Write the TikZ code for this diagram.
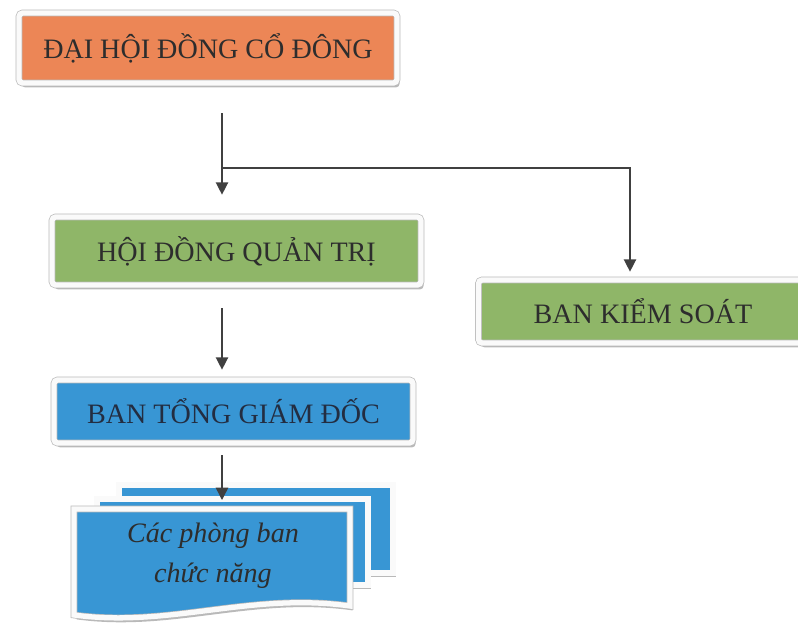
\documentclass[tikz,border=0pt]{standalone}
\usepackage{fontspec}
\setmainfont{Liberation Serif}
\usetikzlibrary{arrows.meta,shadows}

\definecolor{dhcam}{RGB}{236,134,86}
\definecolor{hdxanh}{RGB}{143,182,104}
\definecolor{bgxanh}{RGB}{56,150,212}
\definecolor{chu}{RGB}{45,45,45}
\definecolor{chuxanh}{RGB}{35,45,65}

\begin{document}
\begin{tikzpicture}[x=0.02cm, y=-0.02cm,
  frame/.style={draw=gray!55, double=white!96!gray, double distance=3pt, line width=0.4pt,
                drop shadow={shadow xshift=1.5pt, shadow yshift=-2.5pt, opacity=0.55}},
  box/.style={frame, rectangle, rounded corners=2pt, text=chu,
              font=\fontsize{16}{19}\selectfont},
  dhbox/.style={box, fill=dhcam},
  hdbox/.style={box, fill=hdxanh},
  bgbox/.style={box, fill=bgxanh, text=chuxanh},
  sheet/.style={frame, fill=bgxanh},
  arrow/.style={-{Triangle[width=7pt,length=7pt]}, line width=0.8pt, draw=black!75}
]
  \useasboundingbox (0,0) rectangle (798,626);

  \node[dhbox] (dhdcd) at (208,48)    [minimum width=7.56cm, minimum height=1.4cm]  {ĐẠI HỘI ĐỒNG CỔ ĐÔNG};
  \node[hdbox] (hdqt)  at (236.5,251) [minimum width=7.38cm, minimum height=1.36cm] {HỘI ĐỒNG QUẢN TRỊ};
  \node[hdbox] (bks)   at (643,311.5) [minimum width=6.58cm, minimum height=1.26cm] {BAN KIỂM SOÁT};
  \node[bgbox] (btgd)  at (233.5,411.5) [minimum width=7.18cm, minimum height=1.26cm] {BAN TỔNG GIÁM ĐỐC};

  % chong giay cac phong ban
  \path[sheet] (119,485) rectangle (393,573);
  \path[sheet] (97,499) rectangle (368,585);
  \path[sheet] (74,509) -- (350,509) -- (350,606)
    .. controls (250,592) and (170,628) .. (74,615) -- cycle;
  \node[text=chu, align=center, font=\fontsize{16}{23}\itshape] (phongban) at (213,556)
    {Các phòng ban\\chức năng};

  \coordinate (split) at (222,168);
  \coordinate (bksin) at (630,168);
  \coordinate (stack) at (222,500);

  \draw[arrow, shorten <=0.6cm, shorten >=0.44cm] (dhdcd.south -| split) -- (hdqt.north -| split);
  \draw[arrow, shorten >=0.16cm] (split) -- (bksin) -- (bks.north -| bksin);
  \draw[arrow, shorten <=0.46cm, shorten >=0.2cm] (hdqt.south -| split) -- (btgd.north -| split);
  \draw[arrow, shorten <=0.24cm] (btgd.south -| stack) -- (stack);
\end{tikzpicture}
\end{document}
